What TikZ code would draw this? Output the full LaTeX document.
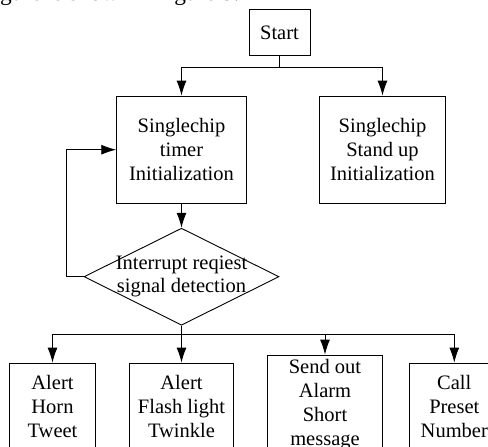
\documentclass[tikz,border=0pt]{standalone}
\usepackage{fontspec}
\setmainfont{Liberation Serif}
\usetikzlibrary{positioning}
\usetikzlibrary{shapes.geometric}
\usetikzlibrary{arrows.meta}
\tikzset{% boxes and arrows of the chart
        block/.style={draw, line width=0.9pt, inner sep=0pt, align=center,
                      font=\fontsize{20.5}{24}\selectfont},
        decide/.style={diamond, draw, line width=0.9pt, inner sep=0pt,
                      minimum width=195pt, minimum height=97pt},
        flow/.style={line width=0.9pt, -{Latex[length=15pt,width=10pt]}},
        plain/.style={line width=0.9pt}
        }

\begin{document}
\begin{tikzpicture}[x=1pt,y=-1pt]
 \useasboundingbox (0,0) rectangle (488,447);
 \node [anchor=base west, inner sep=0pt, font=\fontsize{23.4}{28}\selectfont] (caption) at (0,1) {gure is shown in figure 3.};
 \node [block, minimum width=61pt, minimum height=46pt] (start) at (279.5,32.5) {Start};
 \node [block, minimum width=129.6pt, minimum height=107.3pt] (timer) at (181.5,149.7) {Singlechip\\timer\\Initialization};
 \node [block, minimum width=126.4pt, minimum height=107.3pt] (standup) at (382.5,149.7) {Singlechip\\Stand up\\Initialization};
 \node [decide] (detect) at (181.5,276.7) {};
 \node [align=center, inner sep=0pt, font=\fontsize{20.5}{23}\selectfont] (detecttext) at (detect.center) {Interrupt reqiest\\signal detection};
 \node [block, minimum width=86.4pt, minimum height=86pt] (horn) at (52.5,406) {Alert\\Horn\\Tweet};
 \node [block, minimum width=103.3pt, minimum height=86pt] (flash) at (181.5,406) {Alert\\Flash light\\Twinkle};
 \node [block, minimum width=114.6pt, minimum height=99pt] (sms) at (325,404.5) {Send out\\Alarm\\Short\\message};
 \node [block, minimum width=90pt, minimum height=86pt] (call) at (454.3,406) {Call\\Preset\\Number};
 \coordinate (fork1) at (279.5,67);
 \coordinate (fork2) at (181.5,334);
 \draw [plain] (start.south) -- (fork1);
 \draw [flow] (fork1) -| (timer.north);
 \draw [flow] (fork1) -| (standup.north);
 \draw [flow] (timer.south) -- (detect.north);
 \draw [flow] (detect.west) -- ++(-17.3,0) |- (timer.west);
 \draw [flow] (detect.south) -- (flash.north);
 \draw [flow] (fork2) -| (horn.north);
 \draw [flow] (fork2) -| (sms.north);
 \draw [flow] (fork2) -| (call.north);
\end{tikzpicture}
\end{document}
